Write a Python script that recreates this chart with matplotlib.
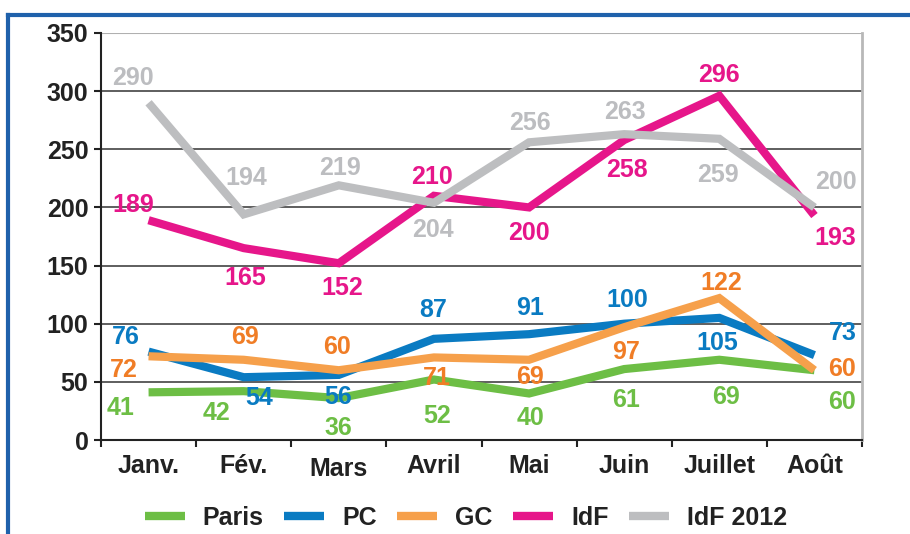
import matplotlib
matplotlib.use("Agg")
import matplotlib.pyplot as plt
from matplotlib.lines import Line2D
from matplotlib.transforms import ScaledTranslation

plt.rcParams['font.family'] = ['Liberation Sans', 'DejaVu Sans']
plt.rcParams['font.weight'] = 'bold'

months = ["Janv.", "Fév.", "Mars", "Avril", "Mai", "Juin", "Juillet", "Août"]
paris = [41, 42, 36, 52, 40, 61, 69, 60]
pc = [76, 54, 56, 87, 91, 100, 105, 73]
gc = [72, 69, 60, 71, 69, 97, 122, 60]
idf = [189, 165, 152, 210, 200, 258, 296, 193]
idf2012 = [290, 194, 219, 204, 256, 263, 259, 200]
series_names = ["Paris", "PC", "GC", "IdF", "IdF 2012"]
y_ticks = [0, 50, 100, 150, 200, 250, 300, 350]

# styles
line_colors = ["#6dbe45", "#0a7bc2", "#f6a04b", "#e6168a", "#bdbec0"]
label_colors = ["#6dbe45", "#0a7bc2", "#f07d26", "#e6168a", "#bcbdc0"]
# label offsets in pixels (dx right, dy down) relative to each point
offsets = [
    [(-28, 16), (-27, 22), (0, 30), (3, 36), (1, 25), (2, 31), (7, 37), (28, 32)],
    [(-23, -15), (15, 21), (-1, 22), (-1, -29), (1, -26), (3, -24), (-2, 25), (28, -22)],
    [(-25, 14), (1, -23), (-2, -23), (3, 21), (1, 17), (2, 25), (2, -15), (28, -1)],
    [(-15, -15), (2, 30), (3, 25), (-2, -19), (0, 26), (3, 30), (0, -21), (21, 22)],
    [(-16, -25), (3, -36), (1, -17), (-1, 27), (1, -19), (1, -22), (-1, 36), (21, -25)],
]
FS = 18

fig = plt.figure(figsize=(9.1, 5.34), dpi=100)
fig.patch.set_facecolor("white")
ax = fig.add_axes([101/910, 1-440/534, (862-101)/910, (440-33)/534])

data = [paris, pc, gc, idf, idf2012]
x = list(range(len(months)))
handles = []
for k, vals in enumerate(data):
    ln, = ax.plot(x, vals, color=line_colors[k], lw=5.9, solid_joinstyle='miter',
                  solid_capstyle='butt', zorder=3+k)
    handles.append(ln)
    for i, v in enumerate(vals):
        dx, dy = offsets[k][i]
        ax.annotate(str(v), (i, v), xytext=(dx, -dy), textcoords='offset pixels',
                    ha='center', va='center', fontsize=FS, fontweight='bold',
                    color=label_colors[k], zorder=10)

ax.set_xlim(-0.5, len(months) - 0.5)
ax.set_ylim(0, 350)
ax.set_yticks(y_ticks)
ax.set_yticklabels([str(t) for t in y_ticks], fontsize=FS, fontweight='bold', color="#222222")
ax.set_xticks(x)
ax.set_xticklabels(months, fontsize=FS, fontweight='bold', color="#222222")
ax.set_xticks([i - 0.5 for i in range(len(months) + 1)], minor=True)
ax.tick_params(axis='x', which='major', length=0, pad=10)
ax.tick_params(axis='x', which='minor', length=5, width=1.5, color="#222222", direction='out')
ax.tick_params(axis='y', length=5, width=1.5, color="#222222", pad=4)

# "Mars" sits slightly lower in the original
lbl = ax.get_xticklabels()[2]
lbl.set_transform(lbl.get_transform() + ScaledTranslation(0, -3/100, fig.dpi_scale_trans))

for t in y_ticks[1:-1]:
    ax.axhline(t, color="#333333", lw=1.1, zorder=1)
ax.axhline(350, color="#b0b0b0", lw=1.5, zorder=1)

ax.spines['top'].set_visible(False)
ax.spines['right'].set_color("#b8b8b8")
ax.spines['right'].set_linewidth(2)
ax.spines['left'].set_color("#222222")
ax.spines['left'].set_linewidth(1.5)
ax.spines['bottom'].set_color("#222222")
ax.spines['bottom'].set_linewidth(1.5)

# blue frame (top and left)
fig.add_artist(Line2D([8/910, 1.0], [1-15/534, 1-15/534], transform=fig.transFigure,
                      color="#1f61ab", lw=3))
fig.add_artist(Line2D([8/910, 8/910], [0, 1-15/534], transform=fig.transFigure,
                      color="#1f61ab", lw=3))

leg = fig.legend(handles, series_names, loc='center', bbox_to_anchor=(466/910, 1-518/534),
                 ncol=5, frameon=False, fontsize=FS, handlelength=1.6, handletextpad=0.72,
                 columnspacing=0.82, borderaxespad=0)
for h in leg.get_lines():
    h.set_linewidth(6)
for t in leg.get_texts():
    t.set_fontweight('bold')
    t.set_color("#222222")

fig.savefig("out.png", dpi=100)
